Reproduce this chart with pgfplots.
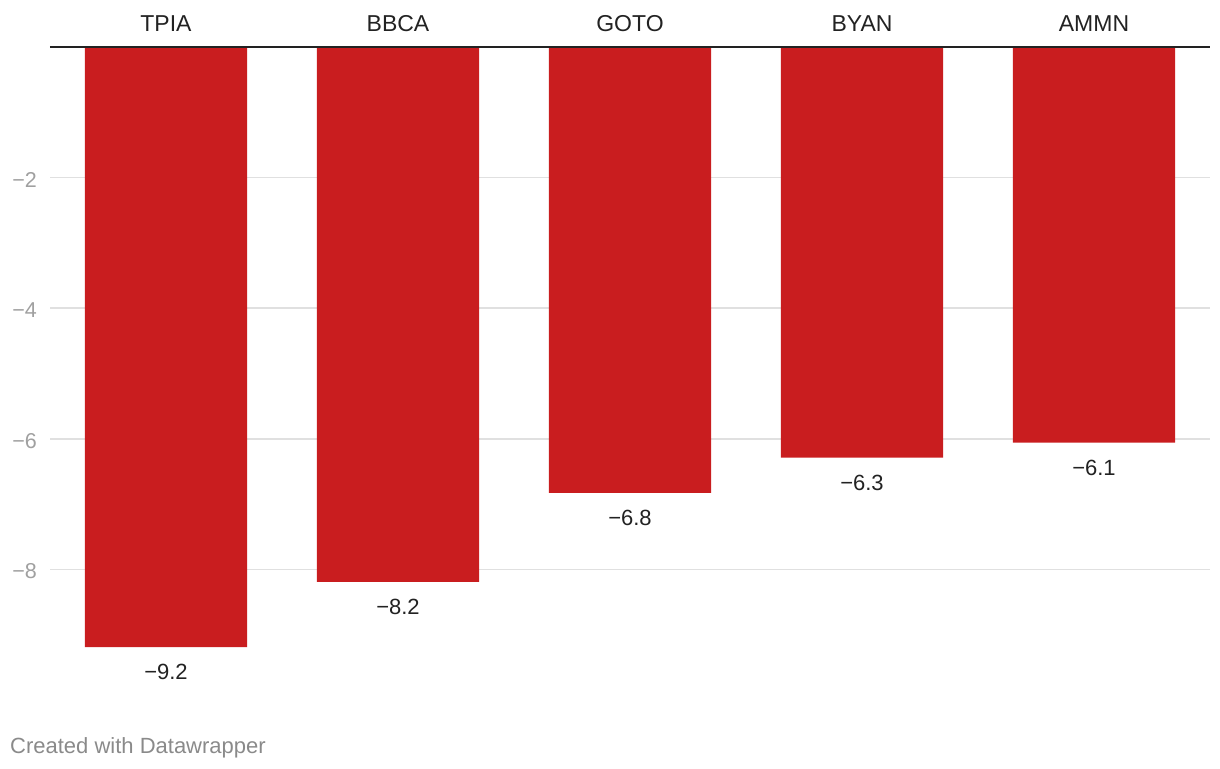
\documentclass[border=0pt]{standalone}
\usepackage{fontspec}
\setmainfont{Liberation Sans}
\usepackage{pgfplots}
\usepackage{pgfplotstable}
\pgfplotsset{compat=1.18}

\definecolor{barred}{HTML}{C91D1F}
\definecolor{textdark}{HTML}{222222}
\definecolor{tickgray}{HTML}{A0A0A0}
\definecolor{gridgray}{HTML}{E0E0E0}
\definecolor{footgray}{HTML}{8A8A8A}

% change in %, one row per ticker
\pgfplotstableread{
x y lab
0 -9.19 −9.2
1 -8.19 −8.2
2 -6.83 −6.8
3 -6.29 −6.3
4 -6.06 −6.1
}\changes

\begin{document}
\begin{tikzpicture}
\useasboundingbox (-50pt,-68pt) rectangle (1170pt,700pt);
\begin{axis}[
    at={(0pt,0pt)}, anchor=south west,
    scale only axis,
    width=1160pt, height=653pt,
    xmin=-0.5, xmax=4.5,
    ymin=-10, ymax=0,
    clip=false,
    axis line style={draw=none},
    tick style={draw=none},
    xtick={0,1,2,3,4},
    xticklabels={TPIA,BBCA,GOTO,BYAN,AMMN},
    xticklabel pos=upper,
    xticklabel style={font=\fontsize{23}{23}\selectfont, text=textdark,
        inner sep=0pt, anchor=south, yshift=11pt},
    ytick={-8,-6,-4,-2},
    yticklabels={−8,−6,−4,−2},
    yticklabel style={font=\fontsize{21.5}{21.5}\selectfont, text=tickgray,
        inner sep=0pt, anchor=east, xshift=-13pt, yshift=-2pt},
    ymajorgrids=true,
    major grid style={color=gridgray, line width=1.5pt},
    ybar,
    bar width=0.7,
    nodes near coords,
    point meta=explicit symbolic,
    every node near coord/.append style={font=\fontsize{22}{22}\selectfont,
        text=textdark, inner sep=0pt, anchor=north, yshift=-17pt},
]
\addplot[fill=barred, draw=none] table[x=x, y=y, meta=lab] {\changes};
\draw[textdark, line width=2pt] (axis cs:-0.5,0) -- (axis cs:4.5,0);
\end{axis}
\node[anchor=base west, inner sep=0pt, text=footgray,
    font=\fontsize{22}{22}\selectfont] at (-40pt,-53pt) {Created with Datawrapper};
\end{tikzpicture}
\end{document}
